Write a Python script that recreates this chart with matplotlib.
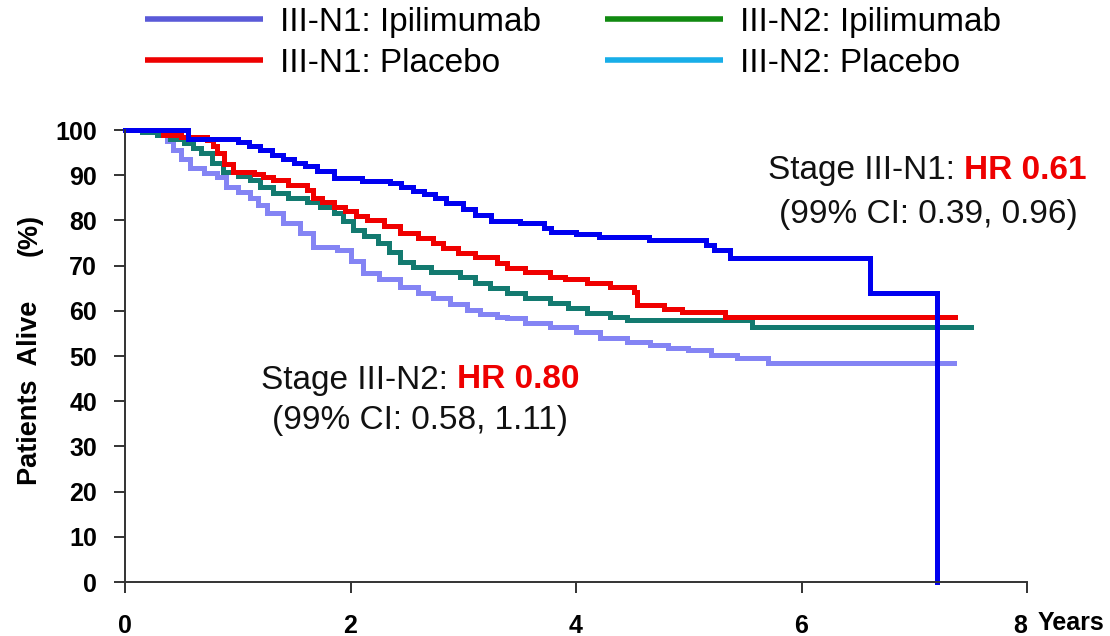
import matplotlib
matplotlib.use("Agg")
import matplotlib.pyplot as plt
from matplotlib.lines import Line2D

# ---- data ----
n1_ipi_t = [0, 0.56, 1.0, 1.1, 1.2, 1.3, 1.4, 1.5, 1.6, 1.7, 1.85, 2.1, 2.35, 2.45, 2.55, 2.65, 2.75,
            2.85, 3.0, 3.1, 3.25, 3.5, 3.72, 3.78, 4.0, 4.2, 4.65, 5.15, 5.22, 5.37, 5.42, 6.61, 7.2]
n1_ipi_s = [100, 98, 97.3, 96.5, 95.5, 94.5, 93.6, 92.8, 92, 91, 89.4, 88.8, 88.2, 87.4, 86.6, 85.8, 85,
            83.8, 82.5, 81.2, 79.8, 79.4, 78.3, 77.4, 77, 76.3, 75.7, 74.6, 73.4, 71.7, 71.7, 63.9, 0]

n1_pla_t = [0, 0.34, 0.5, 0.73, 0.78, 0.82, 0.88, 0.96, 1.14, 1.22, 1.31, 1.45, 1.61, 1.67, 1.75, 1.85,
            1.95, 2.05, 2.15, 2.3, 2.44, 2.6, 2.73, 2.82, 2.95, 3.1, 3.3, 3.39, 3.55, 3.77, 3.9, 4.1,
            4.3, 4.51, 4.54, 4.78, 4.94, 5.32, 7.36]
n1_pla_s = [100, 99, 98.5, 97.8, 96.5, 94.9, 92.5, 90.7, 90.2, 89.5, 88.9, 87.8, 86.7, 84.9, 84, 83,
            82, 81, 80.1, 78.7, 77.2, 76.2, 75, 73.8, 72.8, 71.8, 70.6, 69.5, 68.6, 67.5, 67, 66.2,
            65.2, 64.2, 61.3, 60.4, 59.7, 58.6, 58.6]

n2_ipi_t = [0, 0.15, 0.28, 0.4, 0.52, 0.6, 0.67, 0.77, 0.87, 1.0, 1.11, 1.2, 1.31, 1.45, 1.61, 1.73,
            1.85, 1.93, 2.02, 2.12, 2.24, 2.34, 2.44, 2.55, 2.71, 2.97, 3.1, 3.24, 3.39, 3.55, 3.77,
            3.93, 4.1, 4.3, 4.45, 5.56, 7.5]
n2_ipi_s = [100, 99.5, 98.9, 98, 97.1, 96, 94.9, 92.8, 90.7, 89.8, 88.9, 87.5, 86, 85, 84.1, 82.9,
            81.6, 79.8, 77.9, 76.5, 75, 73, 70.8, 69.8, 68.6, 67.5, 66.2, 65, 63.9, 62.8, 61.7,
            60.6, 59.5, 58.7, 58, 56.4, 56.4]

n2_pla_t = [0, 0.2, 0.31, 0.37, 0.43, 0.5, 0.58, 0.7, 0.82, 0.9, 1.0, 1.11, 1.18, 1.26, 1.4, 1.55,
            1.67, 1.88, 2.0, 2.11, 2.25, 2.44, 2.6, 2.73, 2.88, 3.03, 3.15, 3.3, 3.39, 3.55, 3.77,
            4.0, 4.21, 4.45, 4.66, 4.82, 4.99, 5.2, 5.43, 5.7, 7.35]
n2_pla_s = [100, 99.5, 99, 97.5, 95.6, 93.5, 91.6, 90.5, 89.6, 87.4, 86.3, 85, 83.3, 81.6, 79.5, 77.2,
            74.1, 73.5, 71, 68.4, 67, 65.3, 64, 62.8, 61.5, 60.2, 59.4, 58.6, 58.4, 57.4, 56.4,
            55.2, 54, 53.2, 52.4, 51.8, 51.3, 50.3, 49.6, 48.5, 48.5]

legend_labels = ["III-N1: Ipilimumab", "III-N1: Placebo", "III-N2: Ipilimumab", "III-N2: Placebo"]
x_ticks = [0, 2, 4, 6, 8]
y_ticks = [0, 10, 20, 30, 40, 50, 60, 70, 80, 90, 100]

# ---- styling ----
C_N1_IPI = "#0000f0"
C_N1_PLA = "#f00000"
C_N2_IPI = "#137a70"
C_N2_PLA = "#8484f4"
LEG_COLORS = ["#5a5ad8", "#ee0000", "#118a11", "#18aee8"]

plt.rcParams['font.family'] = ['Liberation Sans', 'DejaVu Sans']

W, H = 1110, 636
fig = plt.figure(figsize=(W / 100, H / 100), dpi=100)
ax = fig.add_axes([125 / W, 1 - 582 / H, (1027 - 125) / W, (582 - 130) / H])

lw = 3.6
ax.plot(n2_pla_t, n2_pla_s, drawstyle="steps-post", color=C_N2_PLA, lw=lw, solid_joinstyle="miter")
ax.plot(n2_ipi_t, n2_ipi_s, drawstyle="steps-post", color=C_N2_IPI, lw=lw, solid_joinstyle="miter")
ax.plot(n1_pla_t, n1_pla_s, drawstyle="steps-post", color=C_N1_PLA, lw=lw, solid_joinstyle="miter")
ax.plot(n1_ipi_t, n1_ipi_s, drawstyle="steps-post", color=C_N1_IPI, lw=lw, solid_joinstyle="miter",
        clip_on=False)

ax.set_xlim(0, 8)
ax.set_ylim(0, 100)
for s in ("top", "right"):
    ax.spines[s].set_visible(False)
for s in ("left", "bottom"):
    ax.spines[s].set_linewidth(1.4)
    ax.spines[s].set_color("#333333")

ax.set_xticks(x_ticks)
ax.set_xticklabels([str(v) for v in x_ticks])
ax.set_yticks(y_ticks)
ax.set_yticklabels([str(v) for v in y_ticks])
ax.tick_params(axis="both", direction="out", length=8, width=1.4, color="#333333")
ax.tick_params(axis="x", pad=15)
ax.tick_params(axis="y", pad=12)
for lab in ax.get_xticklabels() + ax.get_yticklabels():
    lab.set_fontweight("bold")
    lab.set_fontsize(18)
for lab in ax.get_xticklabels():
    if lab.get_text() == "8":
        lab.set_horizontalalignment("right")
        lab.set_x(8)

fig.text(1038 / W, 1 - 623 / H, "Years", ha="left", va="center", weight="bold", fontsize=18)

fig.text(30 / W, 1 - 393 / H, "Patients  Alive", rotation=90, ha="center", va="center",
         weight="bold", fontsize=19.5)
fig.text(30 / W, 1 - 235 / H, "(%)", rotation=90, ha="center", va="center",
         weight="bold", fontsize=19.5)

# annotations
fs_ann = 24
def hr_text(x_px, y_px, stage, hr):
    t1 = ax.annotate(stage, xy=(x_px / W, 1 - y_px / H), xycoords="figure fraction",
                     ha="left", va="center", fontsize=fs_ann, color="#111111")
    ax.annotate(hr, xy=(1, 0.5), xycoords=t1, xytext=(0, 0), textcoords="offset points",
                ha="left", va="center", fontsize=fs_ann, color="#ee0000", weight="bold")
    return t1

hr_text(768, 170, "Stage III-N1: ", "HR 0.61")
fig.text(928 / W, 1 - 214 / H, "(99% CI: 0.39, 0.96)", ha="center", va="center",
         fontsize=fs_ann, color="#111111")
hr_text(261, 380, "Stage III-N2: ", "HR 0.80")
fig.text(420 / W, 1 - 420 / H, "(99% CI: 0.58, 1.11)", ha="center", va="center",
         fontsize=fs_ann, color="#111111")

# legend
fs_leg = 24
px = fs_leg * 100 / 72
handles = [Line2D([], [], color=c, lw=4, solid_capstyle="butt") for c in LEG_COLORS]
fig.legend(handles, legend_labels, loc="upper left", bbox_to_anchor=(145 / W, 1 - 7 / H),
           ncol=2, frameon=False, fontsize=fs_leg, borderpad=0, borderaxespad=0,
           handlelength=118 / px, handletextpad=17 / px, columnspacing=64 / px,
           labelspacing=0.3)

fig.savefig("out.png", dpi=100)
